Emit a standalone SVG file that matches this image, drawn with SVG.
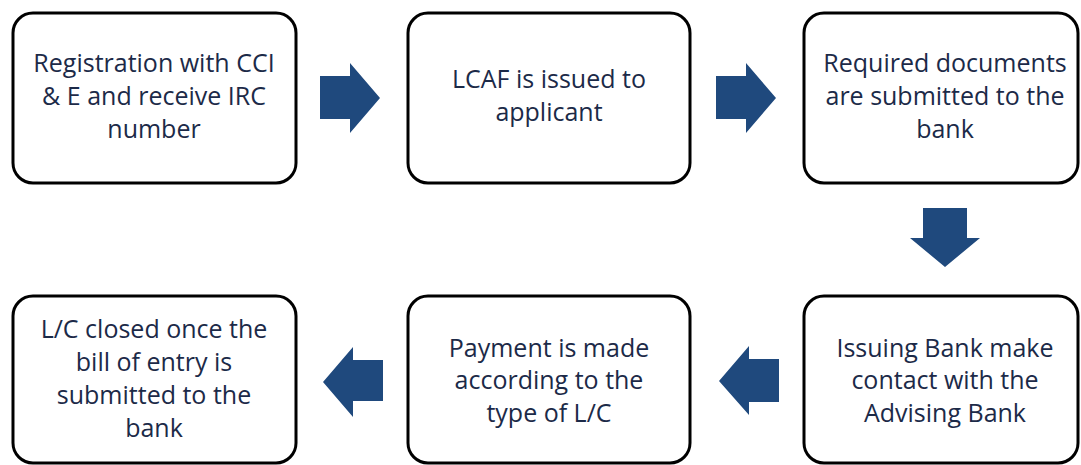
<svg xmlns="http://www.w3.org/2000/svg" width="1081" height="465" viewBox="0 0 1081 465">
<style>
.box{fill:#fff;stroke:#000;stroke-width:3}
.t{font-family:"Open Sans","Noto Sans",sans-serif;font-size:25px;fill:#1c2a48;text-anchor:middle}
.arr{fill:#1f497d}
</style>
<rect width="1081" height="465" fill="#fff"/>
<g id="n1"><rect class="box" x="13" y="13" width="283" height="170" rx="20"/>
<text class="t" x="154" y="72">Registration with CCI</text><text class="t" x="154" y="105">&amp; E and receive IRC</text><text class="t" x="154" y="138">number</text></g>
<g id="n2"><rect class="box" x="408" y="13" width="282" height="170" rx="20"/>
<text class="t" x="549" y="88">LCAF is issued to</text><text class="t" x="549" y="121">applicant</text></g>
<g id="n3"><rect class="box" x="804" y="13" width="274" height="170" rx="20"/>
<text class="t" x="945" y="72">Required documents</text><text class="t" x="945" y="105">are submitted to the</text><text class="t" x="945" y="138">bank</text></g>
<g id="n4"><rect class="box" x="13" y="296" width="283" height="167" rx="20"/>
<text class="t" x="154" y="338">L/C closed once the</text><text class="t" x="154" y="371">bill of entry is</text><text class="t" x="154" y="404">submitted to the</text><text class="t" x="154" y="437">bank</text></g>
<g id="n5"><rect class="box" x="408" y="296" width="282" height="167" rx="20"/>
<text class="t" x="549" y="357">Payment is made</text><text class="t" x="549" y="389">according to the</text><text class="t" x="549" y="422">type of L/C</text></g>
<g id="n6"><rect class="box" x="804" y="296" width="274" height="167" rx="20"/>
<text class="t" x="945" y="357">Issuing Bank make</text><text class="t" x="945" y="389">contact with the</text><text class="t" x="945" y="422">Advising Bank</text></g>
<g id="connectors">
<polygon class="arr" points="320,76 350,76 350,63 380,98 350,133 350,119 320,119"/>
<polygon class="arr" points="716,76 746,76 746,63 776,98 746,133 746,119 716,119"/>
<polygon class="arr" points="923,208 967,208 967,238 980,238 945,267 910,238 923,238"/>
<polygon class="arr" points="383,360 353,360 353,347 323,382 353,417 353,401 383,401"/>
<polygon class="arr" points="779,359 749,359 749,346 719,381 749,415 749,402 779,402"/>
</g>
</svg>
